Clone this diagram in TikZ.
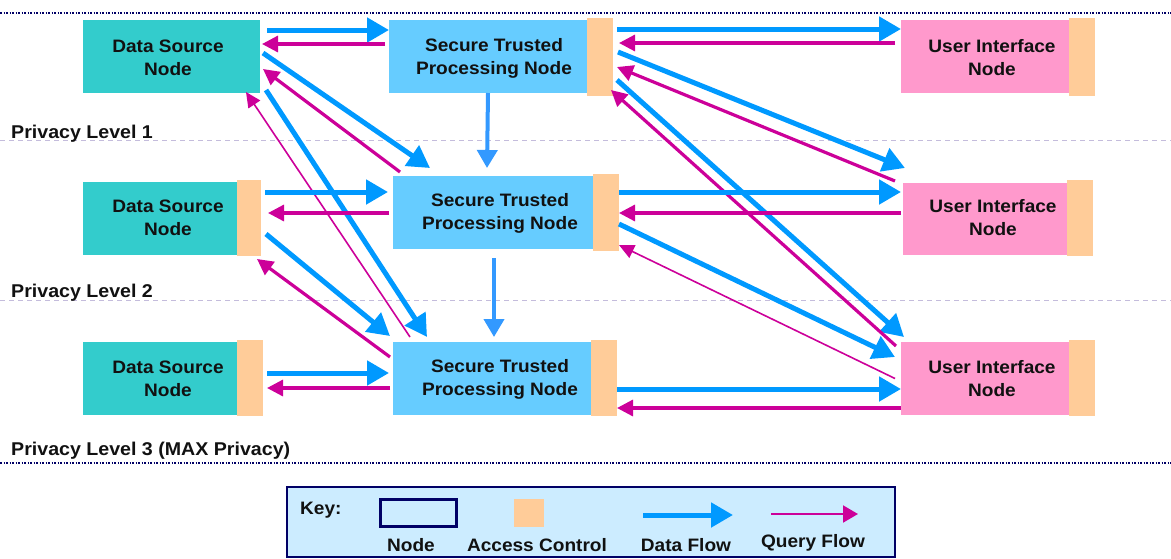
\documentclass[tikz,border=0pt]{standalone}
\usepackage{fontspec}
\setmainfont{Liberation Sans}[FakeStretch=1.06]
\usetikzlibrary{arrows.meta,calc}
\definecolor{dsfill}{HTML}{33CCCC}
\definecolor{stpfill}{HTML}{66CCFF}
\definecolor{uifill}{HTML}{FF99CC}
\definecolor{acfill}{HTML}{FFCC99}
\definecolor{dataclr}{HTML}{0099FF}
\definecolor{downclr}{HTML}{3399FF}
\definecolor{queryclr}{HTML}{CC0099}
\definecolor{keyfill}{HTML}{CCECFF}
\definecolor{navy}{HTML}{000066}
\definecolor{levelline}{HTML}{C4BCDC}
\definecolor{txt}{HTML}{111111}

\begin{document}
\begin{tikzpicture}[x=1pt,y=-1pt,
  blk/.style 2 args={rectangle, inner sep=0pt, outer sep=0pt,
    minimum width=#1pt, minimum height=#2pt},
  dsbox/.style={fill=dsfill},
  stpbox/.style={fill=stpfill},
  uibox/.style={fill=uifill},
  acbox/.style={fill=acfill},
  lbl/.style={font=\bfseries\fontsize{18}{23}\selectfont, text=txt,
    align=center, inner sep=0pt},
  lvl/.style={font=\bfseries\fontsize{18.5}{23}\selectfont, text=txt,
    anchor=base west, inner sep=0pt},
  data/.style={draw=dataclr, line width=5pt,
    -{Triangle[length=22pt,width=24pt]}},
  query/.style={draw=queryclr, line width=3.2pt,
    -{Triangle[length=16pt,width=16pt]}},
  thinquery/.style={draw=queryclr, line width=1.6pt,
    -{Triangle[length=15pt,width=14pt]}},
  down/.style={draw=downclr, line width=4pt,
    -{Triangle[length=18pt,width=20pt]}},
  levelsep/.style={draw=levelline, line width=1pt, dash pattern=on 5pt off 4pt},
  edgesep/.style={draw=navy, line width=1.6pt, dash pattern=on 2pt off 1.5pt on 1pt off 1.5pt}
]
\useasboundingbox (0,0) rectangle (1171,558);

% level separators
\draw[edgesep] (0,13) -- (1171,13);
\draw[levelsep] (0,140) -- (1171,140);
\draw[levelsep] (0,300) -- (1171,300);
\draw[edgesep] (0,463) -- (1171,463);

\node[lvl] (lev1) at (11,138) {Privacy Level 1};
\node[lvl] (lev2) at (11,297) {Privacy Level 2};
\node[lvl] (lev3) at (11,455) {Privacy Level 3 (MAX Privacy)};

% ---- level 1 ----
\node[dsbox, blk={177}{73}] (ds1) at (171.5,56.5) {};
\node[stpbox, blk={198}{73}] (stp1) at (488,56.5) {};
\node[acbox, blk={26}{78}] (a1) at (600,57) {};
\node[uibox, blk={168}{73}] (ui1) at (985,56.5) {};
\node[acbox, blk={26}{78}] (u1) at (1082,57) {};

% ---- level 2 ----
\node[dsbox, blk={154}{73}] (ds2) at (160,218.5) {};
\node[acbox, blk={24}{76}] (a2) at (249,218) {};
\node[stpbox, blk={200}{73}] (stp2) at (493,212.5) {};
\node[acbox, blk={26}{77}] (b2) at (606,212.5) {};
\node[uibox, blk={164}{72}] (ui2) at (985,219) {};
\node[acbox, blk={26}{76}] (u2) at (1080,218) {};

% ---- level 3 ----
\node[dsbox, blk={154}{73}] (ds3) at (160,378.5) {};
\node[acbox, blk={26}{76}] (a3) at (250,378) {};
\node[stpbox, blk={198}{73}] (stp3) at (492,378.5) {};
\node[acbox, blk={26}{76}] (b3) at (604,378) {};
\node[uibox, blk={168}{73}] (ui3) at (985,378.5) {};
\node[acbox, blk={26}{76}] (u3) at (1082,378) {};

% node captions
\node[lbl] (ds1t) at (168,58) {Data Source\\Node};
\node[lbl] (stp1t) at (494,58) {Secure Trusted\\Processing Node};
\node[lbl] (ui1t) at (992,58) {User Interface\\Node};
\node[lbl] (ds2t) at (168,218) {Data Source\\Node};
\node[lbl] (stp2t) at (500,213) {Secure Trusted\\Processing Node};
\node[lbl] (ui2t) at (993,218) {User Interface\\Node};
\node[lbl] (ds3t) at (168,379) {Data Source\\Node};
\node[lbl] (stp3t) at (500,379) {Secure Trusted\\Processing Node};
\node[lbl] (ui3t) at (992,379) {User Interface\\Node};

% ---- flows from/to level 1 ----
\draw[data]  ($(ds1.north east)+(7,10)$) -- ($(stp1.north west)+(0,10)$);
\draw[query] ($(stp1.north west)+(-4,24)$) -- ($(ds1.north east)+(2,24)$);
\draw[data]  ($(a1.north east)+(4,11)$) -- ($(ui1.north west)+(0,9)$);
\draw[query] ($(ui1.north west)+(-6,23)$) -- ($(a1.north east)+(6,25)$);

\draw[data]  ($(ds1.east)+(3,-3.5)$) -- ($(stp2.north west)+(37,-8)$);
\draw[query] ($(stp2.north west)+(7,-4)$) -- ($(ds1.east)+(3,12.5)$);
\draw[data]  ($(ds1.south east)+(6,-3)$) -- ($(stp3.north west)+(34,-5)$);
\draw[thinquery] ($(stp3.north west)+(17,-5)$) -- ($(ds1.south east)+(-14,-1)$);

\draw[data]  ($(a1.east)+(5,-5)$) -- ($(ui2.north west)+(2,-15)$);
\draw[query] ($(ui2.north west)+(-8,-2)$) -- ($(a1.east)+(4,10)$);
\draw[data]  ($(a1.east)+(4,23)$) -- ($(ui3.north west)+(3,-5)$);
\draw[query] ($(ui3.north west)+(-5,4)$) -- ($(a1.south east)+(-2,-6)$);

\draw[down] (stp1.south) -- ($(stp2.north)+(-6,-8)$);

% ---- flows from/to level 2 ----
\draw[data]  ($(a2.east)+(4,-26)$) -- ($(stp2.west)+(-5,-20.5)$);
\draw[query] ($(stp2.west)+(-4,0.5)$) -- ($(a2.east)+(7,-5)$);
\draw[data]  ($(a2.east)+(5,16)$) -- ($(stp3.north west)+(-3,-6)$);
\draw[query] ($(stp3.north west)+(-3,15)$) -- ($(a2.south east)+(-4,3)$);

\draw[data]  ($(b2.east)+(0,-20.5)$) -- ($(ui2.west)+(-2,-27)$);
\draw[query] ($(ui2.west)+(-2,-6)$) -- ($(b2.east)+(0,0.5)$);
\draw[data]  ($(b2.east)+(0,11.5)$) -- ($(ui3.west)+(-6,-21.5)$);
\draw[thinquery] ($(ui3.west)+(-6,0)$) -- ($(b2.east)+(0,32.5)$);

\draw[down] ($(stp2.south)+(1,9)$) -- ($(stp3.north)+(2,-5)$);

% ---- flows within level 3 ----
\draw[data]  ($(a3.east)+(4,-5)$) -- ($(stp3.west)+(-4,-5.5)$);
\draw[query] ($(stp3.west)+(-3,9.5)$) -- ($(a3.east)+(4,10)$);
\draw[data]  ($(b3.east)+(0,11)$) -- ($(ui3.west)+(0,10.5)$);
\draw[query] ($(ui3.west)+(0,29.5)$) -- ($(b3.east)+(0,30)$);

% ---- key ----
\node[blk={608}{70}, fill=keyfill, draw=navy, line width=2pt] (key) at (591,522) {};
\node[lbl, anchor=west] (keyt) at (300,510) {Key:};
\node[blk={76}{27}, draw=navy, line width=3pt] (keynode) at (418,512.5) {};
\node[acbox, blk={30}{28}] (keyac) at (529,513) {};
\coordinate (kd1) at (643,515);
\coordinate (kd2) at (733,515);
\draw[data] (kd1) -- (kd2);
\coordinate (kq1) at (771,514);
\coordinate (kq2) at (858,514);
\draw[draw=queryclr, line width=2pt, -{Triangle[length=15pt,width=17pt]}] (kq1) -- (kq2);
\node[lbl] (keynodet) at (411,545) {Node};
\node[lbl] (keyact) at (537,545) {Access Control};
\node[lbl] (keydt) at (686,545) {Data Flow};
\node[lbl] (keyqt) at (813,543) {Query Flow};
\end{tikzpicture}
\end{document}
